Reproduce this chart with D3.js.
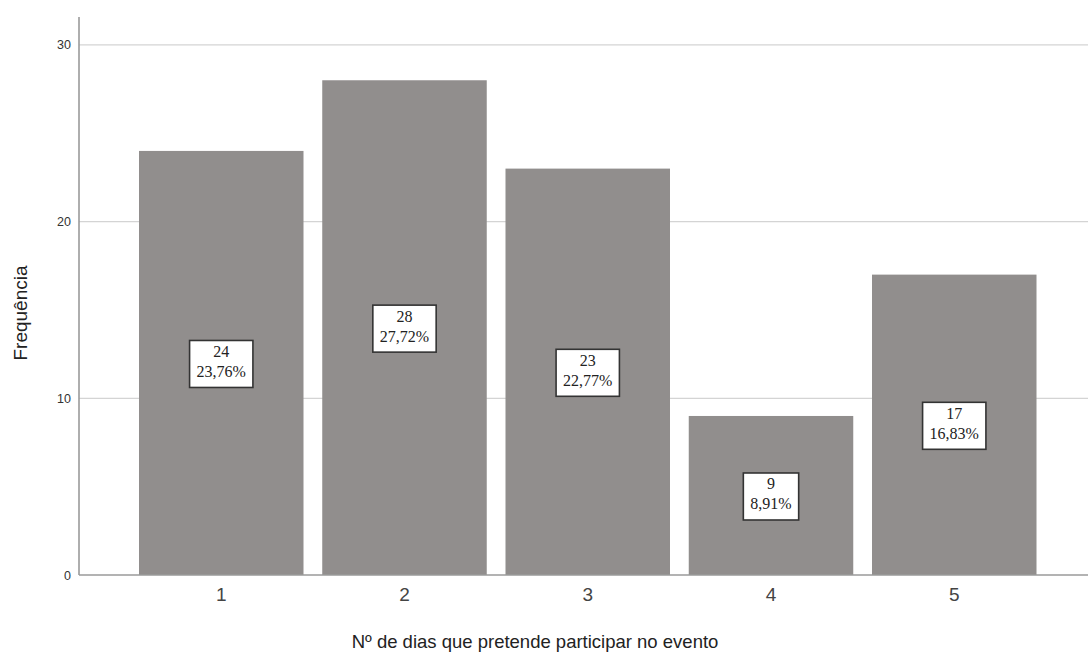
<!DOCTYPE html>
<html>
<head>
<meta charset="utf-8">
<script src="https://cdn.jsdelivr.net/npm/d3@7"></script>
<style>
  html, body { margin: 0; padding: 0; background: #fff; }
  svg { display: block; }
</style>
</head>
<body>
<svg id="chart" width="1088" height="655"></svg>
<script>
const categories = ["1", "2", "3", "4", "5"];
const counts = [24, 28, 23, 9, 17];
const percents = ["23,76%", "27,72%", "22,77%", "8,91%", "16,83%"];
const yTicks = [0, 10, 20, 30];
const xTitle = "Nº de dias que pretende participar no evento";
const yTitle = "Frequência";

const W = 1088, H = 655;
const plotLeft = 79, plotBottom = 575, plotTop = 17;
const svg = d3.select("#chart");

const x = d3.scaleBand().domain(categories).range([plotLeft, 1096.5])
  .paddingInner(0.1023).paddingOuter(0.3274);
const y = d3.scaleLinear().domain([0, 31.58]).range([plotBottom, plotTop]);

// gridlines
svg.append("g").selectAll("line").data(yTicks.filter(d => d > 0)).join("line")
  .attr("x1", plotLeft).attr("x2", W)
  .attr("y1", d => y(d)).attr("y2", d => y(d))
  .attr("stroke", "#d4d4d4").attr("stroke-width", 1.3);

// bars
svg.append("g").selectAll("rect").data(categories).join("rect")
  .attr("x", d => x(d))
  .attr("width", x.bandwidth())
  .attr("y", (d, i) => y(counts[i]))
  .attr("height", (d, i) => y(0) - y(counts[i]))
  .attr("fill", "#918e8d");

// axes
const yAxis = svg.append("g").attr("transform", `translate(${plotLeft},0)`)
  .call(d3.axisLeft(y).tickValues(yTicks).tickSize(0).tickPadding(8));
yAxis.select(".domain").remove();
yAxis.selectAll("text").attr("font-family", "Liberation Sans, Arial, sans-serif")
  .attr("font-size", 12.5).attr("fill", "#333");
svg.append("line").attr("x1", plotLeft).attr("x2", plotLeft).attr("y1", plotTop).attr("y2", plotBottom)
  .attr("stroke", "#9a9a9a").attr("stroke-width", 1.6);

const xAxis = svg.append("g").attr("transform", `translate(0,${plotBottom})`)
  .call(d3.axisBottom(x).tickSize(0).tickPadding(13));
xAxis.select(".domain").remove();
xAxis.selectAll("text").attr("font-family", "Liberation Sans, Arial, sans-serif")
  .attr("font-size", 19).attr("fill", "#444");
svg.append("line").attr("x1", plotLeft).attr("x2", W).attr("y1", plotBottom).attr("y2", plotBottom)
  .attr("stroke", "#9a9a9a").attr("stroke-width", 1.6);

// axis titles
svg.append("text").attr("x", 535).attr("y", 648).attr("text-anchor", "middle")
  .attr("font-family", "Liberation Sans, Arial, sans-serif").attr("font-size", 18.5)
  .attr("fill", "#222").text(xTitle);
svg.append("text").attr("transform", "translate(27,313) rotate(-90)")
  .attr("text-anchor", "middle")
  .attr("font-family", "Liberation Sans, Arial, sans-serif").attr("font-size", 19)
  .attr("fill", "#222").text(yTitle);

// value labels
const lg = svg.append("g");
categories.forEach((c, i) => {
  const cx = x(c) + x.bandwidth() / 2;
  const cy = y(counts[i] / 2);
  const g = lg.append("g");
  const box = g.append("rect");
  const t1 = g.append("text").attr("x", cx).attr("y", cy - 6).attr("text-anchor", "middle")
    .attr("font-family", "Liberation Serif, Times New Roman, serif").attr("font-size", 16)
    .attr("fill", "#222").text(counts[i]);
  const t2 = g.append("text").attr("x", cx).attr("y", cy + 14).attr("text-anchor", "middle")
    .attr("font-family", "Liberation Serif, Times New Roman, serif").attr("font-size", 16)
    .attr("fill", "#222").text(percents[i]);
  const w = Math.max(t1.node().getComputedTextLength(), t2.node().getComputedTextLength()) + 14;
  const h = 47;
  box.attr("x", cx - w / 2).attr("y", cy - h / 2 + 1).attr("width", w).attr("height", h)
    .attr("fill", "#fff").attr("stroke", "#333").attr("stroke-width", 1.6);
});
</script>
</body>
</html>
